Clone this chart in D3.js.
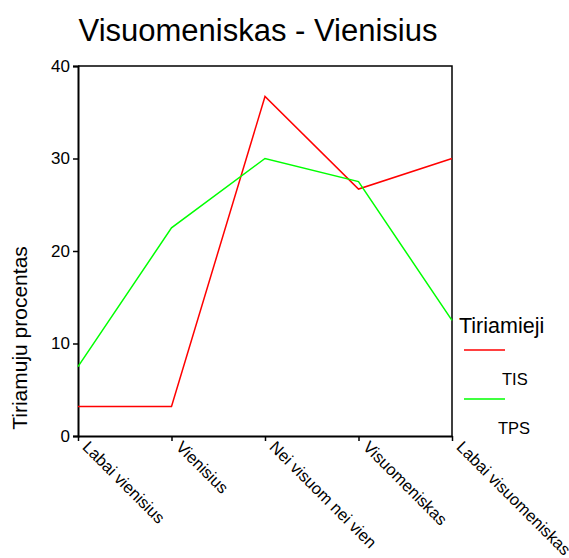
<!DOCTYPE html>
<html>
<head>
<meta charset="utf-8">
<script src="https://cdn.jsdelivr.net/npm/d3@7"></script>
<style>
  body { margin: 0; background: #fff; }
  svg text { font-family: "Liberation Sans", Arial, sans-serif; fill: #000; }
</style>
</head>
<body>
<div id="chart"></div>
<script>
// categories on the x axis
var categories = ["Labai vienisius", "Vienisius", "Nei visuom nei vien", "Visuomeniskas", "Labai visuomeniskas"];
// percentage of respondents per group
var tisValues = [3.2, 3.2, 36.7, 26.7, 30];
var tpsValues = [7.5, 22.5, 30, 27.5, 12.5];
var yTicks = [0, 10, 20, 30, 40];

var series = [
  { name: "TIS", values: tisValues, color: "#ff0000" },
  { name: "TPS", values: tpsValues, color: "#00ff00" }
];

var width = 569, height = 558;
var plot = { left: 78, right: 452, top: 66, bottom: 436 };

var svg = d3.select("#chart").append("svg")
    .attr("width", width)
    .attr("height", height);

var x = d3.scalePoint()
    .domain(categories)
    .range([plot.left, plot.right]);

var y = d3.scaleLinear()
    .domain([0, 40])
    .range([plot.bottom, plot.top]);

// title
svg.append("text")
    .attr("x", 258)
    .attr("y", 41)
    .attr("text-anchor", "middle")
    .style("font-size", "31px")
    .text("Visuomeniskas - Vienisius");

// frame (top and right)
svg.append("path")
    .attr("d", "M" + plot.left + "," + plot.top + "H" + plot.right + "V" + plot.bottom)
    .attr("fill", "none")
    .attr("stroke", "#000")
    .attr("stroke-width", 1.5);

// y axis
var yAxis = svg.append("g")
    .attr("transform", "translate(" + plot.left + ",0)")
    .call(d3.axisLeft(y).tickValues(yTicks).tickSize(5).tickPadding(3));
yAxis.select(".domain").attr("stroke-width", 2);
yAxis.selectAll(".tick line").attr("stroke-width", 1.5);
yAxis.selectAll("text").style("font-size", "17px").attr("font-family", null);

// x axis
var xAxis = svg.append("g")
    .attr("transform", "translate(0," + plot.bottom + ")")
    .call(d3.axisBottom(x).tickSize(5).tickSizeOuter(0));
xAxis.select(".domain").attr("stroke-width", 2);
xAxis.selectAll(".tick line").attr("stroke-width", 1.5);
xAxis.selectAll("text")
    .attr("font-family", null)
    .style("font-size", "16.5px")
    .attr("text-anchor", "start")
    .attr("dy", null)
    .attr("x", 0)
    .attr("y", 0)
    .attr("transform", "translate(3,12) rotate(45)");

// y label
svg.append("text")
    .attr("transform", "translate(27,338) rotate(-90)")
    .attr("text-anchor", "middle")
    .style("font-size", "21px")
    .text("Tiriamuju procentas");

// lines
var line = d3.line()
    .x(function(d, i) { return x(categories[i]); })
    .y(function(d) { return y(d); });

svg.selectAll(".series")
    .data(series)
  .enter().append("path")
    .attr("class", "series")
    .attr("d", function(d) { return line(d.values); })
    .attr("fill", "none")
    .attr("stroke", function(d) { return d.color; })
    .attr("stroke-width", 1.5);

// legend
var legend = svg.append("g");
legend.append("text")
    .attr("x", 459)
    .attr("y", 333)
    .style("font-size", "21.5px")
    .text("Tiriamieji");

var items = legend.selectAll(".item")
    .data(series)
  .enter().append("g")
    .attr("class", "item")
    .attr("transform", function(d, i) { return "translate(0," + (i * 49) + ")"; });
items.append("line")
    .attr("x1", 464).attr("x2", 505)
    .attr("y1", 350).attr("y2", 350)
    .attr("stroke", function(d) { return d.color; })
    .attr("stroke-width", 1.5);
items.append("text")
    .attr("x", function(d) { return d.name === "TIS" ? 502 : 498; })
    .attr("y", 385)
    .style("font-size", "16.5px")
    .text(function(d) { return d.name; });
</script>
</body>
</html>
